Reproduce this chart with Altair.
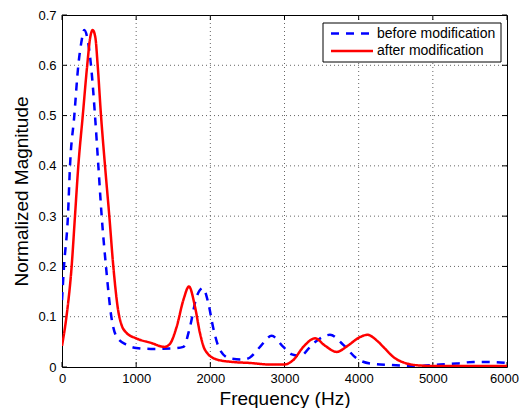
import altair as alt
import pandas as pd

# ---- data ----
freq_before = [0, 27, 80, 108, 166, 220, 260, 300, 340, 391, 445, 490, 535, 593, 665, 737,
               872, 1000, 1200, 1500, 1636, 1726, 1816, 1900, 1973, 2040, 2130, 2265, 2445,
               2535, 2670, 2827, 2984, 3100, 3209, 3389, 3613, 3793, 3973, 4153, 4422, 4800,
               5097, 5322, 5546, 5771, 6000]
mag_before = [0.133, 0.20, 0.30, 0.40, 0.50, 0.60, 0.645, 0.670, 0.655, 0.60, 0.50, 0.40, 0.30,
              0.20, 0.10, 0.060, 0.044, 0.038, 0.036, 0.037, 0.040, 0.080, 0.140, 0.157, 0.127,
              0.077, 0.034, 0.017, 0.015, 0.019, 0.040, 0.062, 0.040, 0.025, 0.022, 0.047, 0.064,
              0.044, 0.017, 0.007, 0.004, 0.002, 0.005, 0.007, 0.010, 0.010, 0.008]

freq_after = [0, 60, 130, 175, 220, 280, 340, 380, 414, 450, 481, 526, 580, 638, 692, 760, 800,
              870, 1000, 1200, 1380, 1450, 1546, 1636, 1712, 1793, 1861, 1928, 2085, 2300, 2535,
              2800, 3000, 3119, 3254, 3411, 3550, 3703, 3850, 4000, 4117, 4250, 4332, 4467, 4647,
              4827, 5000, 6000]
mag_after = [0.042, 0.10, 0.20, 0.30, 0.40, 0.50, 0.60, 0.655, 0.670, 0.655, 0.60, 0.50, 0.40,
             0.30, 0.20, 0.11, 0.085, 0.068, 0.057, 0.048, 0.040, 0.045, 0.080, 0.133, 0.160,
             0.120, 0.067, 0.034, 0.015, 0.010, 0.008, 0.005, 0.005, 0.014, 0.040, 0.057, 0.042,
             0.030, 0.042, 0.058, 0.064, 0.052, 0.040, 0.020, 0.007, 0.003, 0.002, 0.002]

series_names = ["before modification", "after modification"]
series_colors = ["#0000ff", "#ff0000"]
series_dash = [[8, 7], [1, 0]]

x_ticks = [0, 1000, 2000, 3000, 4000, 5000, 6000]
y_ticks = [0, 0.1, 0.2, 0.3, 0.4, 0.5, 0.6, 0.7]
x_grid = [1000, 2000, 3000, 4000, 5000]
y_grid = [0.1, 0.2, 0.3, 0.4, 0.5, 0.6]

df = pd.concat([
    pd.DataFrame({"f": freq_before, "m": mag_before, "series": series_names[0]}),
    pd.DataFrame({"f": freq_after, "m": mag_after, "series": series_names[1]}),
])
xt = pd.DataFrame({"f": x_ticks})
yt = pd.DataFrame({"m": y_ticks})
xg = pd.DataFrame({"f": x_grid})
yg = pd.DataFrame({"m": y_grid})

W, H = 445, 352
FONT = "Liberation Sans"
TL = 5  # inward tick length

xs = alt.Scale(domain=[0, 6000], nice=False, zero=False)
ys = alt.Scale(domain=[0, 0.7], nice=False, zero=False)

xaxis = alt.Axis(values=x_ticks, format="d", grid=False, ticks=False, domain=False,
                 labelFont=FONT, labelFontSize=13, labelColor="black", labelPadding=5,
                 labelFlush=False,
                 labelOffset={"condition": {"test": "datum.value == 6000", "value": -3},
                              "value": 0},
                 title="Frequency (Hz)", titleFont=FONT, titleFontSize=19,
                 titleFontWeight="normal", titleColor="black", titleBaseline="alphabetic",
                 titleY=37)
yaxis = alt.Axis(values=y_ticks, grid=False, ticks=False, domain=False,
                 labelExpr="datum.value == 0 ? '0' : format(datum.value, '.1f')",
                 labelFont=FONT, labelFontSize=13, labelColor="black", labelPadding=6,
                 labelFlush=False, title="Normalized Magnitude", titleFont=FONT,
                 titleFontSize=19, titleFontWeight="normal", titleColor="black",
                 titleBaseline="alphabetic", titleX=-35)

X = alt.X("f:Q", scale=xs, axis=xaxis)
Y = alt.Y("m:Q", scale=ys, axis=yaxis)

color = alt.Color("series:N", scale=alt.Scale(domain=series_names, range=series_colors),
                  legend=None)
dash = alt.StrokeDash("series:N", scale=alt.Scale(domain=series_names, range=series_dash),
                      legend=None)

grid_x = alt.Chart(xg).mark_rule(color="#666", strokeWidth=1, strokeDash=[1, 3]).encode(
    x=X, y=alt.value(0), y2=alt.value(H))
grid_y = alt.Chart(yg).mark_rule(color="#666", strokeWidth=1, strokeDash=[1, 3]).encode(
    y=Y, x=alt.value(0), x2=alt.value(W))

tick_b = alt.Chart(xt).mark_rule(color="black").encode(x=X, y=alt.value(H), y2=alt.value(H - TL))
tick_t = alt.Chart(xt).mark_rule(color="black").encode(x=X, y=alt.value(0), y2=alt.value(TL))
tick_l = alt.Chart(yt).mark_rule(color="black").encode(y=Y, x=alt.value(0), x2=alt.value(TL))
tick_r = alt.Chart(yt).mark_rule(color="black").encode(y=Y, x=alt.value(W), x2=alt.value(W - TL))

line_before = alt.Chart(df).transform_filter(alt.datum.series == series_names[0]).mark_line(
    strokeWidth=2.5, interpolate="monotone", clip=True).encode(
    x=X, y=Y, color=color, strokeDash=dash)
line_after = alt.Chart(df).transform_filter(alt.datum.series == series_names[1]).mark_line(
    strokeWidth=2.5, interpolate="monotone", clip=True).encode(
    x=X, y=Y, color=color, strokeDash=dash)

# ---- legend box (decoration, pixel positions in plot area) ----
one = pd.DataFrame({"k": [0]})
LX0, LX1, LY0, LY1 = 261, 439, 8, 47
SX0, SX1, TX = 269, 311, 315
ROWS = [18.5, 36]

leg_box = alt.Chart(one).mark_rect(fill="white", stroke="black", strokeWidth=1).encode(
    x=alt.value(LX0), x2=alt.value(LX1), y=alt.value(LY0), y2=alt.value(LY1))
leg_layers = [leg_box]
for i, name in enumerate(series_names):
    leg_layers.append(
        alt.Chart(one).mark_rule(color=series_colors[i], strokeWidth=2.5,
                                 strokeDash=series_dash[i]).encode(
            x=alt.value(SX0), x2=alt.value(SX1), y=alt.value(ROWS[i])))
    leg_layers.append(
        alt.Chart(one).mark_text(text=name, font=FONT, fontSize=14, color="black",
                                 align="left", baseline="middle").encode(
            x=alt.value(TX), y=alt.value(ROWS[i])))

chart = alt.layer(grid_x, grid_y, tick_b, tick_t, tick_l, tick_r, line_before, line_after,
                  *leg_layers).properties(
    width=W, height=H,
    autosize=alt.AutoSizeParams(type="none"),
    padding={"left": 54, "top": 7, "right": 12, "bottom": 41},
    background="white",
).configure_view(stroke="black", strokeWidth=1)

chart.save("out.html", embed_options={"renderer": "svg", "actions": False})
